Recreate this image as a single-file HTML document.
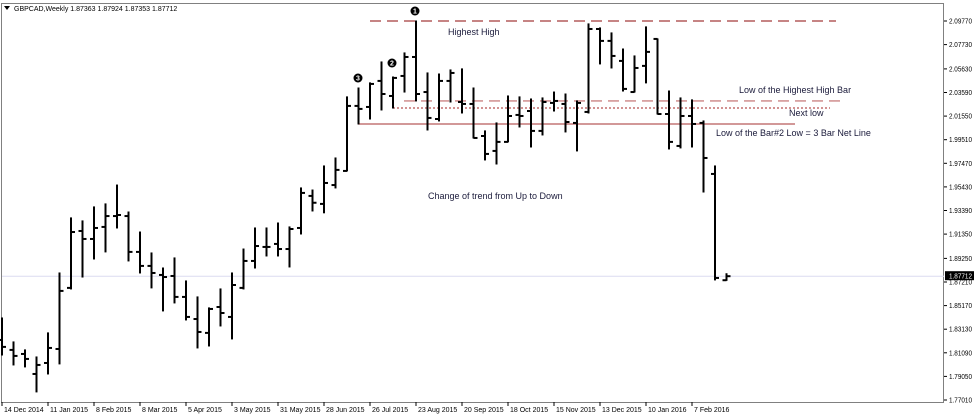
<!DOCTYPE html>
<html><head><meta charset="utf-8"><style>
body{margin:0;background:#fff;}
svg{display:block;font-family:"Liberation Sans",sans-serif;}
</style></head><body>
<svg id="chart" width="975" height="418"></svg>
<script>
const dates=["14 Dec 2014","11 Jan 2015","8 Feb 2015","8 Mar 2015","5 Apr 2015","3 May 2015","31 May 2015","28 Jun 2015","26 Jul 2015","23 Aug 2015","20 Sep 2015","18 Oct 2015","15 Nov 2015","13 Dec 2015","10 Jan 2016","7 Feb 2016"];
const opens=[1.8220,1.8134,1.8099,1.7926,1.8021,1.8142,1.8670,1.9162,1.9093,1.9197,1.9291,1.9291,1.8981,1.8860,1.8782,1.8773,1.8592,1.8401,1.8281,1.8505,1.8419,1.8670,1.8903,1.9024,1.9050,1.9006,1.9188,1.9465,1.9396,1.9559,1.9681,2.0243,2.0234,2.0459,2.0329,2.0502,2.0666,2.0363,2.0130,2.0459,2.0277,2.0260,1.9983,1.9854,1.9932,2.0165,2.0199,2.0027,2.0269,2.0260,2.0096,2.0191,2.0908,2.0805,2.0632,2.0363,2.0589,2.0822,2.0173,1.9897,2.0156,2.0096,1.9655,1.87363];
const highs=[1.8410,1.8203,1.8134,1.8073,1.8281,1.8799,1.9275,1.9249,1.9370,1.9396,1.9559,1.9326,1.9153,1.8972,1.8842,1.8929,1.8730,1.8592,1.8497,1.8661,1.8799,1.9006,1.9188,1.9188,1.9231,1.9197,1.9534,1.9516,1.9724,1.9793,2.0321,2.0398,2.0442,2.0623,2.0493,2.0701,2.0977,2.0528,2.0519,2.0554,2.0563,2.0398,2.0027,2.0096,2.0329,2.0321,2.0303,2.0312,2.0363,2.0346,2.0286,2.0952,2.0917,2.0874,2.0735,2.0675,2.0926,2.0822,2.0372,2.0312,2.0295,2.0113,1.9724,1.87924];
const lows=[1.8090,1.8004,1.7987,1.7771,1.7926,1.8013,1.8661,1.8764,1.8920,1.8981,1.9188,1.8903,1.8799,1.8670,1.8471,1.8540,1.8393,1.8151,1.8168,1.8341,1.8229,1.8661,1.8842,1.8946,1.8946,1.8851,1.9136,1.9335,1.9319,1.9534,1.9681,2.0087,2.0130,2.0208,2.0225,2.0363,2.0286,2.0035,2.0113,2.0277,2.0182,1.9966,1.9776,1.9741,1.9932,2.0061,1.9888,1.9992,2.0199,2.0018,1.9854,2.0182,2.0606,2.0571,2.0372,2.0363,2.0442,2.0173,1.9871,1.9880,1.9888,1.9499,1.8739,1.87353];
const closes=[1.8160,1.8082,1.8056,1.8004,1.8151,1.8644,1.9153,1.9093,1.9188,1.9291,1.9300,1.8981,1.8860,1.8799,1.8764,1.8592,1.8419,1.8289,1.8488,1.8453,1.8695,1.8903,1.9032,1.9024,1.9006,1.9179,1.9491,1.9406,1.9577,1.9690,2.0243,2.0217,2.0433,2.0346,2.0485,2.0666,2.0346,2.0139,2.0459,2.0528,2.0260,1.9966,1.9828,1.9932,2.0156,2.0156,2.0027,2.0277,2.0286,2.0104,2.0269,2.0908,2.0805,2.0675,2.0390,2.0571,2.0710,2.0173,1.9932,2.0156,2.0087,1.9793,1.8756,1.87712];
const yTicks=[2.09770,2.07730,2.05630,2.03590,2.01550,1.99510,1.97470,1.95430,1.93390,1.91350,1.89250,1.87210,1.85170,1.83130,1.81090,1.79050,1.77010];
const levelHighestHigh=2.0977, levelHHLow=2.0286, levelNextLow=2.0225, levelNetLine=2.0087;
const current=1.87712;

const NS="http://www.w3.org/2000/svg";
const svg=document.getElementById('chart');
function yS(p){return 21+(2.0977-p)/(2.0977-1.7701)*379;}
function xS(i){return 2+i*11.5;}
function mk(tag,attrs,parent){const e=document.createElementNS(NS,tag);for(const k in attrs)e.setAttribute(k,attrs[k]);(parent||svg).appendChild(e);return e;}

let fr=mk('rect',{x:1.5,y:3.5,width:942,height:399,fill:'none',stroke:'#808080','stroke-width':1});


let hd=mk('text',{x:14,y:11,'font-size':7,fill:'#000'});hd.textContent='GBPCAD,Weekly  1.87363 1.87924 1.87353 1.87712';


let tri=mk('path',{d:'M4,6 L10,6 L7,10 Z',fill:'#000'});



let cl=mk('line',{x1:2,x2:944,y1:yS(current),y2:yS(current),stroke:'#dcdcf0','stroke-width':1});



yTicks.forEach(v=>{const y=yS(v);
 mk('line',{x1:944,x2:947,y1:y,y2:y,stroke:'#000'});
 const t=mk('text',{x:949,y:y+2.5,'font-size':7,fill:'#000',textLength:23,lengthAdjust:'spacingAndGlyphs'});t.textContent=v.toFixed(5);
 
 
});
dates.forEach((d,k)=>{const x=xS(k*4);
 mk('line',{x1:x,x2:x,y1:402,y2:406,stroke:'#000'});
 const t=mk('text',{x:x+2,y:412,'font-size':7,fill:'#000'});t.textContent=d;
 
 
});

function lvl(p,x1,x2,color,dash,name,w){const l=mk('line',{x1:x1,x2:x2,y1:yS(p),y2:yS(p),stroke:color,'stroke-width':w||1.3});if(dash)l.setAttribute('stroke-dasharray',dash);
 
 }
lvl(levelHighestHigh,370,836,'#a33a3a','11,6','highest-high-line');
lvl(levelHHLow,404,840,'#cc8484','11,6','highest-high-bar-low-line');
lvl(levelNextLow,393,830,'#b85050','2,2','next-low-line',1.2);
lvl(levelNetLine,358,795,'#b85a5a',null,'net-line');

for(let i=0;i<opens.length;i++){const x=xS(i);
 const g=mk('g',{stroke:'#000','stroke-width':2});
 
 
 mk('line',{x1:x,x2:x,y1:yS(highs[i])-0.5,y2:yS(lows[i])+0.5},g);
 mk('line',{x1:x-4,x2:x,y1:yS(opens[i]),y2:yS(opens[i])},g);
 mk('line',{x1:x,x2:x+4,y1:yS(closes[i]),y2:yS(closes[i])},g);
}

let pt=mk('rect',{x:945,y:yS(current)-5,width:29,height:9,fill:'#000'});


let ptt=mk('text',{x:949,y:yS(current)+2.5,'font-size':7,fill:'#fff',textLength:23,lengthAdjust:'spacingAndGlyphs'});ptt.textContent=current.toFixed(5);



[[415,11,'1'],[392,63,'2'],[358,78,'3']].forEach(m=>{
 const c=mk('circle',{cx:m[0],cy:m[1],r:4.5,fill:'#000'});
 
 
 const t=mk('text',{x:m[0],y:m[1]+2.5,'font-size':7,'font-weight':'bold',fill:'#fff','text-anchor':'middle'});t.textContent=m[2];
});

[[448,35,'Highest High','highest-high-label'],[739,93,'Low of the Highest High Bar','hh-bar-low-label'],[789,116,'Next low','next-low-label'],[716,136,'Low of the Bar#2 Low = 3 Bar Net Line','net-line-label'],[428,199,'Change of trend from Up to Down','trend-change-label']].forEach(a=>{
 const t=mk('text',{x:a[0],y:a[1],'font-size':9,fill:'#1a1a3a'});t.textContent=a[2];
 
 
});
</script>
</body></html>
